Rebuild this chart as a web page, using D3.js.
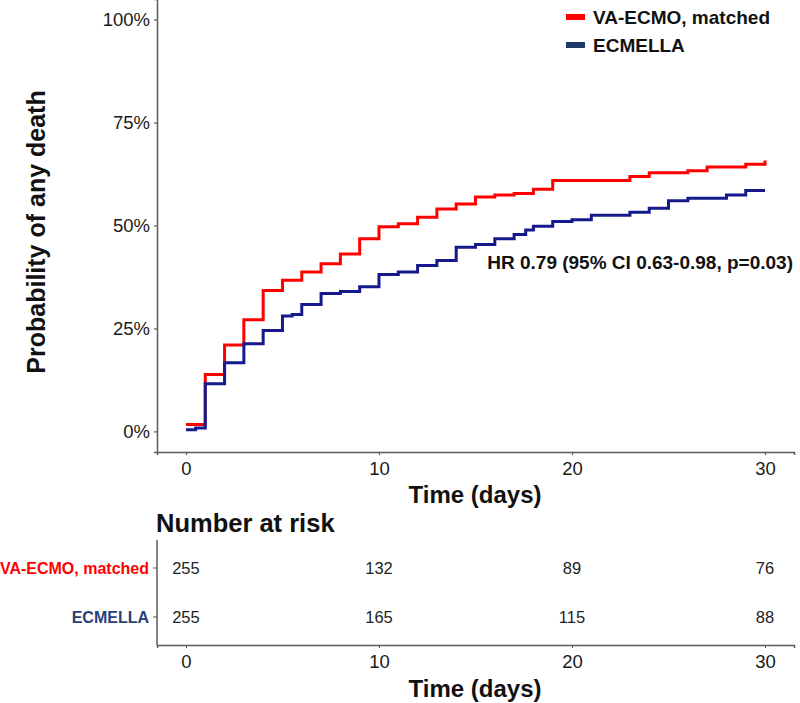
<!DOCTYPE html>
<html>
<head>
<meta charset="utf-8">
<script src="https://cdn.jsdelivr.net/npm/d3@7"></script>
<style>
  body { margin: 0; background: #fff; }
  text { font-family: "Liberation Sans", Arial, sans-serif; }
</style>
</head>
<body>
<div id="chart"></div>
<script>
// group names, colours
var groups = ["VA-ECMO, matched", "ECMELLA"];

// cumulative probability of death (%)
var ecmoTimes = [0, 1, 2, 3, 4, 5, 6, 7, 8, 9, 10, 11, 12, 13, 14, 15, 16, 17, 18, 19, 23, 24, 26, 27, 29, 30];
var ecmoDeath = [1.7, 13.8, 21.0, 27.1, 34.2, 36.7, 38.7, 40.7, 43.1, 46.8, 49.7, 50.4, 52.0, 54.0, 55.2, 56.9, 57.4, 57.8, 58.8, 60.9, 61.9, 62.8, 63.3, 64.2, 64.9, 65.8];

var ecmellaTimes = [0, 0.5, 1, 2, 3, 4, 5, 5.5, 6, 7, 8, 9, 10, 11, 12, 13, 14, 15, 16, 17, 17.6, 18, 19, 20, 21, 23, 24, 25, 26, 28, 29, 30];
var ecmellaDeath = [0.4, 0.8, 11.6, 16.7, 21.3, 24.5, 28.0, 28.4, 30.8, 33.5, 34.0, 35.1, 38.1, 38.7, 40.3, 41.5, 44.7, 45.4, 46.8, 47.8, 48.9, 49.8, 51.0, 51.4, 52.5, 53.2, 54.2, 56.0, 56.6, 57.4, 58.5, 58.5];

// number at risk table
var riskTimes = [0, 10, 20, 30];
var riskEcmo = [255, 132, 89, 76];
var riskEcmella = [255, 165, 115, 88];

var xTicks = [0, 10, 20, 30];
var yTicks = [0, 0.25, 0.5, 0.75, 1];

var hrLabel = "HR 0.79 (95% CI 0.63-0.98, p=0.03)";

var width = 800, height = 703;
var red = "#ff0000", navy = "#15198c", legendNavy = "#22386b", labelNavy = "#273f7a";
var axisCol = "#5a5a5a";

var svg = d3.select("#chart").append("svg")
  .attr("width", width)
  .attr("height", height);

var x = d3.scaleLinear().domain([-1.5, 31.5]).range([157, 794]);
var y = d3.scaleLinear().domain([-0.05, 1.05]).range([452, -1]);

// y axis
var yAxis = svg.append("g")
  .attr("transform", "translate(157,0)")
  .call(d3.axisLeft(y).tickValues(yTicks).tickSizeOuter(0).tickSize(3)
    .tickFormat(function(d) { return Math.round(d * 100) + "%"; }));
yAxis.selectAll("text").attr("font-size", 18.5).attr("fill", "#1a1a1a").attr("dx", -1);

// x axis
var xAxis = svg.append("g")
  .attr("transform", "translate(0,452)")
  .call(d3.axisBottom(x).tickValues(xTicks).tickSizeOuter(0).tickSize(3));
xAxis.selectAll("text").attr("font-size", 18.5).attr("fill", "#1a1a1a").attr("dy", "0.9em");

svg.selectAll(".domain").attr("stroke", axisCol).attr("stroke-width", 1.5);
svg.selectAll(".tick line").attr("stroke", axisCol).attr("stroke-width", 1.2);

svg.append("text")
  .attr("transform", "translate(45,232) rotate(-90)")
  .attr("text-anchor", "middle")
  .attr("font-size", 25).attr("font-weight", "bold").attr("fill", "#111")
  .text("Probability of any death");

svg.append("text")
  .attr("x", 475).attr("y", 503)
  .attr("text-anchor", "middle")
  .attr("font-size", 24).attr("font-weight", "bold").attr("fill", "#111")
  .text("Time (days)");

// curves
var line = d3.line()
  .curve(d3.curveStepAfter)
  .x(function(d) { return x(d[0]); })
  .y(function(d) { return y(d[1] / 100); });

svg.append("path")
  .datum(d3.zip(ecmoTimes, ecmoDeath))
  .attr("d", line)
  .attr("fill", "none")
  .attr("stroke", red)
  .attr("stroke-width", 3);

svg.append("path")
  .datum(d3.zip(ecmellaTimes, ecmellaDeath))
  .attr("d", line)
  .attr("fill", "none")
  .attr("stroke", navy)
  .attr("stroke-width", 3);

// legend
var legend = svg.append("g");
[red, legendNavy].forEach(function(c, i) {
  legend.append("rect")
    .attr("x", 566).attr("y", 14 + i * 28)
    .attr("width", 19).attr("height", 6)
    .attr("fill", c);
  legend.append("text")
    .attr("x", 593).attr("y", 24 + i * 28)
    .attr("font-size", 19).attr("font-weight", "bold").attr("fill", "#111")
    .text(groups[i]);
});

svg.append("text")
  .attr("x", 793).attr("y", 269)
  .attr("text-anchor", "end")
  .attr("font-size", 19).attr("font-weight", "bold").attr("fill", "#111")
  .text(hrLabel);

// risk table
svg.append("text")
  .attr("x", 156).attr("y", 532)
  .attr("font-size", 25.5).attr("font-weight", "bold").attr("fill", "#111")
  .text("Number at risk");

var rowY = d3.scalePoint().domain(groups).range([568, 617]);

var tAxis = svg.append("g")
  .attr("transform", "translate(0,645)")
  .call(d3.axisBottom(x).tickValues(xTicks).tickSizeOuter(0).tickSize(3));
tAxis.selectAll("text").attr("font-size", 18.5).attr("fill", "#1a1a1a").attr("dy", "0.9em");
tAxis.select(".domain").attr("stroke", axisCol).attr("stroke-width", 1.5);
tAxis.selectAll(".tick line").attr("stroke", axisCol);

svg.append("line")
  .attr("x1", 157).attr("x2", 157)
  .attr("y1", 540).attr("y2", 645)
  .attr("stroke", axisCol).attr("stroke-width", 1.5);

groups.forEach(function(g, i) {
  svg.append("line")
    .attr("x1", 153).attr("x2", 157)
    .attr("y1", rowY(g)).attr("y2", rowY(g))
    .attr("stroke", axisCol);
  svg.append("text")
    .attr("x", 149).attr("y", rowY(g)).attr("dy", "0.35em")
    .attr("text-anchor", "end")
    .attr("font-size", 16).attr("font-weight", "bold")
    .attr("fill", i === 0 ? red : labelNavy)
    .text(g);
  var counts = i === 0 ? riskEcmo : riskEcmella;
  svg.selectAll(null)
    .data(d3.zip(riskTimes, counts))
    .enter().append("text")
    .attr("x", function(d) { return x(d[0]); })
    .attr("y", rowY(g)).attr("dy", "0.35em")
    .attr("text-anchor", "middle")
    .attr("font-size", 16.5).attr("fill", "#222")
    .text(function(d) { return d[1]; });
});

svg.append("text")
  .attr("x", 475).attr("y", 697)
  .attr("text-anchor", "middle")
  .attr("font-size", 24).attr("font-weight", "bold").attr("fill", "#111")
  .text("Time (days)");
</script>
</body>
</html>
